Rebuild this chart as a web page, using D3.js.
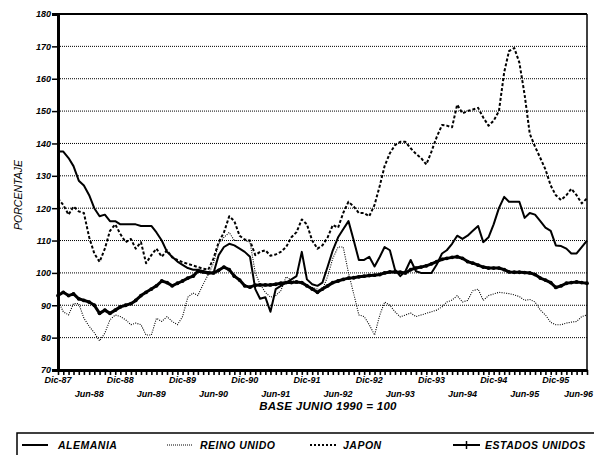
<!DOCTYPE html>
<html><head><meta charset="utf-8">
<script src="https://cdn.jsdelivr.net/npm/d3@7"></script>
<style>
body{margin:0;background:#fff}
text{font-family:"Liberation Sans",Arial,sans-serif;font-weight:bold;font-style:italic;fill:#000}
</style>
</head><body>
<svg id="c" width="594" height="455"></svg>
<script>
// ---- DATA (monthly, Dic-87 .. Jun-96, base Junio 1990 = 100) ----
const startMonth = new Date(1987, 11, 1);
const endMonth = new Date(1996, 5, 1);
const alemania = [137.5,137.5,135.5,133,128.5,127,124,120,117.5,118,
116,116,115,115,115,115,114.5,114.5,114.5,112.5,
110,106.5,105,103.5,102.5,101.5,101,101,100.5,100.2,
100,105.5,108,109,108.5,107.5,106.5,105,95,92,
92.5,88,95,96,97,98,99,106.5,98,96.5,
96,97,102,107,111,113.5,116,110,104,104,
105,102,105,108,107,101,99,100.5,104,100.5,
100,100,100,102.6,106,107,109,111.5,110.5,111.5,
113,114.5,109.5,111,115,120,123.5,122,122,122,
117,118.5,118,116,114,113,108.5,108.3,107.5,106,
106,108,110];
const reinoUnido = [91.5,88,87,90.5,90.5,86,83.5,81.5,79,81.4,
85.5,87,86.5,85.5,84,84.5,84,80.8,80.8,86,
85,86.5,85,84,86.5,92.5,93.8,93,96.5,99.5,
103,109,111,112.5,110,110,110,109.5,100,96.5,
94,92.5,93,94.5,98.8,97.8,97,96.8,96,95.5,
95,94.7,99,104.5,108,108,100,93.5,87,86.5,
84,80.8,87,91,90,88,86.4,87,87.6,86.5,
87,87.5,88,88.5,89.5,91,91.6,93,91,91.5,
94.5,95,91.5,93,93.5,94,93.8,93.6,93.2,92.7,
91.5,91.8,91,88.5,87,84.7,84,84,84.5,84.8,
85,86.5,87];
const japon = [123,121,118,120.5,119,118.5,111,106,103.4,107.5,
113,115,112,109.5,110.5,107.5,109.5,103,105.5,107.5,
105,107,104.8,104,103.3,102.8,102.3,101.8,101.3,101,
104.5,109.5,112.5,117.5,116,111.5,110.3,110,105.5,106.5,
107,105.3,105.7,106.5,108,111,112.6,116.5,115,110,
107.5,108.5,111,114.8,114,118.5,122,120.5,118.5,118.5,
117.5,121,127,133,137,139.5,140.5,140.5,138.5,136.8,
135.5,133.5,137.5,142,145.7,145.5,145,152,149.3,150,
150.5,151,148,145.5,147,150,162,168.5,169.5,165,
155,143,139,135.5,132,127,124,122.5,124,126,
124,121.5,123];
const estadosUnidos = [93,94,93,93.5,92,91.5,91,90,87.5,88.5,
87.5,88.5,89.5,90,90.5,91.5,93,94,95,96,
97.5,97,96,96.8,97.5,98.4,99,100.5,100.3,100,
100,100.8,101.8,101,99,97.8,96,95.6,96.2,96.3,
96.3,96.3,96.5,96.8,97,97,97.2,97,96,95,
94,95,96,97,97.5,98,98.4,98.5,98.8,99,
99.2,99.3,99.5,100,100.3,100.3,100.2,100,101,101.5,
101.8,102.2,102.8,103.5,104.2,104.5,104.8,105,104.5,103.5,
103,102.4,101.8,101.5,101.5,101.5,101,100.3,100.2,100.2,
100.1,100,99.5,98.4,97.8,97,95.5,96,96.8,97,
97.2,97,96.8];
const yTicks = [70,80,90,100,110,120,130,140,150,160,170,180];
const monthAbbr = {11:"Dic", 5:"Jun"};
const seriesNames = ["ALEMANIA","REINO UNIDO","JAPON","ESTADOS UNIDOS"];
const xTitle = "BASE JUNIO 1990 = 100";
const yTitle = "PORCENTAJE";

// ---- CHART ----
const months = d3.timeMonth.range(startMonth, d3.timeMonth.offset(endMonth, 1));
const svg = d3.select("#c");
const L = 58, R = 587, T = 14, B = 370;
const x = d3.scaleTime().domain([startMonth, endMonth]).range([L, R]);
const y = d3.scaleLinear().domain([70, 180]).range([B, T]);

// gridlines
svg.append("g").selectAll("line").data(yTicks.filter(d => d > 70 && d < 180)).join("line")
  .attr("x1", L).attr("x2", R).attr("y1", d => y(d)).attr("y2", d => y(d))
  .attr("stroke", "#000").attr("stroke-width", 1).attr("stroke-dasharray", "1,1");

// top & right border
svg.append("line").attr("x1", L).attr("x2", R).attr("y1", y(180)).attr("y2", y(180))
  .attr("stroke", "#000").attr("stroke-width", 2);
svg.append("line").attr("x1", R).attr("x2", R).attr("y1", y(180)).attr("y2", y(70))
  .attr("stroke", "#000").attr("stroke-width", 1.5);

// y axis
const yAxis = svg.append("g").attr("transform", `translate(${L},0)`)
  .call(d3.axisLeft(y).tickValues(yTicks).tickSize(6).tickPadding(1).tickFormat(d3.format("d")));
yAxis.select(".domain").attr("stroke-width", 3);
yAxis.selectAll(".tick line").attr("stroke-width", 1.5);
yAxis.selectAll("text").style("font-size", "9px").style("font-family", "'Liberation Sans',Arial,sans-serif");

// x axis (monthly ticks)
const xAxis = svg.append("g").attr("transform", `translate(0,${B})`)
  .call(d3.axisBottom(x).tickValues(months).tickSize(5).tickSizeOuter(0).tickFormat(""));
xAxis.select(".domain").attr("stroke-width", 3);
xAxis.selectAll(".tick line").attr("stroke-width", 1.6);

const fmtYr = d3.timeFormat("%y");
const labMonths = months.filter(d => d.getMonth() === 11 || d.getMonth() === 5);
svg.append("g").selectAll("text").data(labMonths).join("text")
  .attr("x", (d, i) => i === labMonths.length - 1 ? 593 : x(d))
  .attr("y", d => d.getMonth() === 11 ? 383 : 397)
  .attr("text-anchor", (d, i) => i === labMonths.length - 1 ? "end" : "middle")
  .style("font-size", "9px")
  .text(d => monthAbbr[d.getMonth()] + "-" + fmtYr(d));

svg.append("text").attr("x", 328).attr("y", 410).attr("text-anchor", "middle")
  .style("font-size", "11.5px").style("letter-spacing", "0.3px").text(xTitle);
svg.append("text").attr("transform", "translate(22,195) rotate(-90)").attr("text-anchor", "middle")
  .style("font-size", "10.5px").style("font-weight", "normal").text(yTitle);

// series
const line = d3.line().x((d, i) => x(months[i])).y(d => y(d));
const styles = [
  {data: reinoUnido, w: 1.1, dash: "1,1.3"},
  {data: japon, w: 2, dash: "3,2"},
  {data: alemania, w: 2, dash: null},
  {data: estadosUnidos, w: 3, dash: null}
];
styles.forEach(s => {
  svg.append("path").datum(s.data).attr("d", line).attr("fill", "none")
    .attr("stroke", "#000").attr("stroke-width", s.w).attr("stroke-linejoin", "round")
    .attr("stroke-dasharray", s.dash);
});
svg.append("g").selectAll("circle").data(estadosUnidos).join("circle")
  .attr("cx", (d, i) => x(months[i])).attr("cy", d => y(d)).attr("r", 1.9).attr("fill", "#000");

// legend
const lg = svg.append("g");
lg.append("path").attr("d", "M17,462 V433 H600").attr("fill", "none").attr("stroke", "#000").attr("stroke-width", 1.5);
const ly = 445;
lg.append("line").attr("x1", 22).attr("x2", 48).attr("y1", ly).attr("y2", ly).attr("stroke", "#000").attr("stroke-width", 2);
lg.append("line").attr("x1", 167).attr("x2", 193).attr("y1", ly).attr("y2", ly).attr("stroke", "#000").attr("stroke-width", 1).attr("stroke-dasharray", "1,1");
lg.append("line").attr("x1", 310).attr("x2", 337).attr("y1", ly).attr("y2", ly).attr("stroke", "#000").attr("stroke-width", 2).attr("stroke-dasharray", "2,2");
lg.append("line").attr("x1", 453).attr("x2", 480).attr("y1", ly).attr("y2", ly).attr("stroke", "#000").attr("stroke-width", 2);
lg.append("line").attr("x1", 466.5).attr("x2", 466.5).attr("y1", ly - 4).attr("y2", ly + 4).attr("stroke", "#000").attr("stroke-width", 1.5);
const lx = [58, 200, 343, 485];
seriesNames.forEach((n, i) => {
  lg.append("text").attr("x", lx[i]).attr("y", ly + 3.5).style("font-size", "10.5px")
    .style("letter-spacing", "0.5px").text(n);
});
</script>
</body></html>
